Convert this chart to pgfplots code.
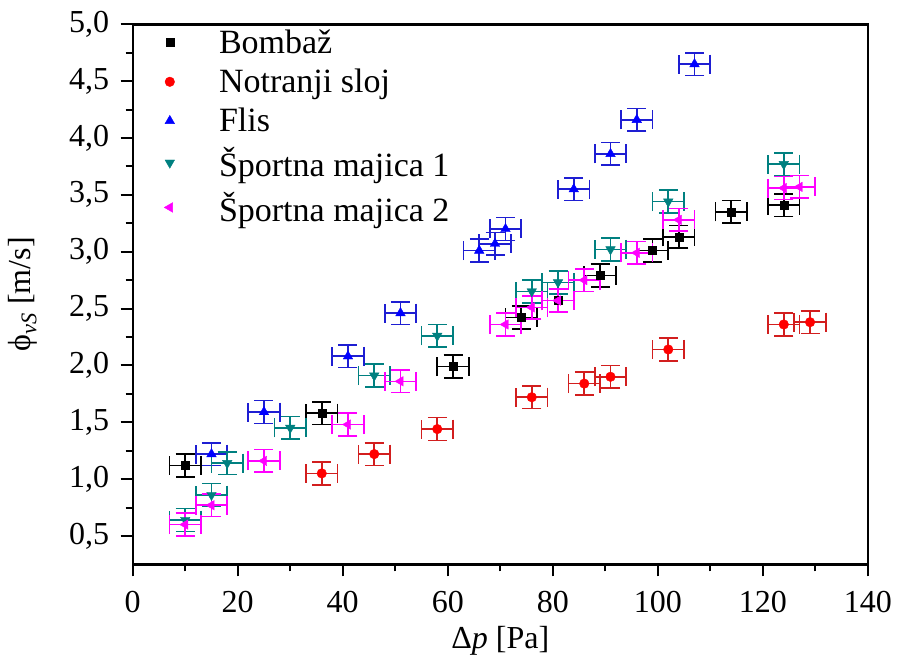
\documentclass[border=0pt]{standalone}
\usepackage{fontspec}
\setmainfont{Liberation Serif}
\usepackage{pgfplots}
\pgfplotsset{compat=1.18}
\definecolor{cteal}{RGB}{0,128,128}
\definecolor{cmag}{RGB}{255,0,255}
\definecolor{cred}{RGB}{255,0,0}
\definecolor{cblue}{RGB}{0,0,255}
\definecolor{redbar}{RGB}{210,30,30}
\definecolor{bluebar}{RGB}{30,30,210}
\pgfdeclareplotmark{errcap}{%
  \pgfpathmoveto{\pgfqpoint{0pt}{9.5bp}}%
  \pgfpathlineto{\pgfqpoint{0pt}{-9.5bp}}%
  \pgfusepathqstroke}

\pgfplotstableread{
x y
10 1.12
36 1.58
61 1.99
74 2.42
81 2.57
89 2.79
99 3.01
104 3.13
114 3.35
124 3.41
}\bombaz
\pgfplotstableread{
x y
36 1.05
46 1.22
58 1.44
76 1.72
86 1.84
91 1.90
102 2.14
124 2.36
129 2.38
}\notranji
\pgfplotstableread{
x y
15 1.22
25 1.59
41 2.08
51 2.46
66 3.01
69 3.07
71 3.20
84 3.55
91 3.86
96 4.16
107 4.65
}\flis
\pgfplotstableread{
x y
10 0.64
15 0.86
18 1.14
30 1.45
46 1.91
58 2.26
76 2.65
81 2.73
91 3.02
102 3.44
124 3.77
}\spa
\pgfplotstableread{
x y
10 0.60
15 0.77
25 1.16
41 1.48
51 1.86
71 2.36
76 2.51
81 2.57
86 2.75
96 2.99
104 3.28
124 3.56
127 3.57
}\spb

\begin{document}
\begin{tikzpicture}
\begin{axis}[
  scale only axis, width=735bp, height=540bp,
  xmin=0, xmax=140, ymin=0.25, ymax=5,
  xtick={0,20,...,140}, ytick={0.5,1,...,5},
  minor x tick num=1, minor y tick num=1,
  tick align=outside, tick pos=left,
  major tick length=12bp, minor tick length=7bp,
  axis line style={line width=2.4bp},
  every tick/.style={line width=2bp, black},
  /pgf/number format/assume math mode=true,
  y tick label style={xshift=-8bp, /pgf/number format/.cd, use comma, fixed, fixed zerofill, precision=1},
  x tick label style={yshift=-11bp},
  ticklabel style={font=\fontsize{32bp}{38bp}\selectfont},
  label style={font=\fontsize{32bp}{38bp}\selectfont},
  xlabel={Δ\textit{p} [Pa]},
  ylabel={ϕ\textsubscript{\textit{vS}} [m/s]},
  xlabel style={at={(axis description cs:0.5,-0.142)}, anchor=center},
  ylabel style={at={(axis description cs:-0.150,0.5)}, anchor=center, rotate=0},
  legend style={at={(axis description cs:0.02,0.997)}, anchor=north west, draw=none, fill=none,
    font=\fontsize{34bp}{40bp}\selectfont, row sep=10bp},
  legend cell align=left,
  legend image code/.code={\path (0bp,0bp) (66bp,0bp); \draw[#1] plot coordinates {(19bp,0bp)};},
  every axis plot/.append style={only marks},
  error bars/error bar style={line width=1.6bp},
  error bars/error mark=errcap,
  error bars/error mark options={line width=1.6bp},
]
\addplot[black, mark=square*, mark size=4bp,
  error bars/.cd, x dir=both, x fixed=3, y dir=both, y fixed=0.1]
  table[x=x,y=y]{\bombaz};
\addlegendentry{Bombaž}
\addplot[redbar, mark=*, mark size=4.8bp, mark options={cred, fill=cred},
  error bars/.cd, x dir=both, x fixed=3, y dir=both, y fixed=0.1]
  table[x=x,y=y]{\notranji};
\addlegendentry{Notranji sloj}
\addplot[bluebar, mark=triangle*, mark size=5.5bp, mark options={cblue, fill=cblue},
  error bars/.cd, x dir=both, x fixed=3, y dir=both, y fixed=0.1]
  table[x=x,y=y]{\flis};
\addlegendentry{Flis}
\addplot[cteal, mark=triangle*, mark size=5.5bp, mark options={rotate=180, fill=cteal},
  error bars/.cd, x dir=both, x fixed=3, y dir=both, y fixed=0.1]
  table[x=x,y=y]{\spa};
\addlegendentry{Športna majica 1}
\addplot[cmag, mark=triangle*, mark size=5.5bp, mark options={rotate=90, fill=cmag},
  error bars/.cd, x dir=both, x fixed=3, y dir=both, y fixed=0.1]
  table[x=x,y=y]{\spb};
\addlegendentry{Športna majica 2}
\end{axis}
\pgfresetboundingbox
\path[use as bounding box] ([shift={(-132.7bp,-99.7bp)}]current axis.south west) rectangle ([shift={(29.2bp,24.3bp)}]current axis.north east);
\end{tikzpicture}
\end{document}
